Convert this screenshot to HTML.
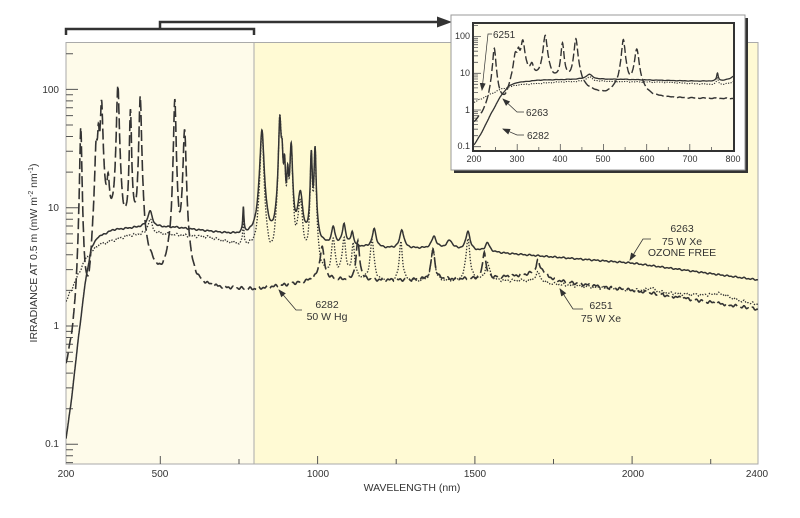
<!DOCTYPE html>
<html><head><meta charset="utf-8"><style>
html,body{margin:0;padding:0;background:#fff;}
svg{display:block;font-family:"Liberation Sans",sans-serif;}
</style></head><body>
<svg id="s" width="800" height="518" viewBox="0 0 800 518" xmlns="http://www.w3.org/2000/svg">
<defs>
<clipPath id="cm"><rect x="66" y="42" width="692" height="422"/></clipPath>
<clipPath id="ci"><rect x="473" y="23" width="261" height="128"/></clipPath>
<marker id="ar" markerWidth="8" markerHeight="8" refX="7" refY="4" orient="auto" markerUnits="userSpaceOnUse"><path d="M0,1 L8,4 L0,7 Z" fill="#333"/></marker>
</defs>
<rect x="66" y="42" width="188" height="422" fill="#fefbea"/>
<rect x="254" y="42" width="504" height="422" fill="#fffad4"/>
<line x1="254" y1="42" x2="254" y2="464" stroke="#aaa" stroke-width="1"/>
<path d="M66,42.5 H758 V464 H66 Z" fill="none" stroke="#aaa" stroke-width="1"/>
<g id="ticks" stroke="#555" stroke-width="1"></g>
<g font-size="10" fill="#333" text-anchor="end">
<text x="59" y="93">100</text><text x="59" y="211">10</text><text x="59" y="329">1</text><text x="59" y="447">0.1</text>
</g>
<g font-size="10" fill="#333" text-anchor="middle">
<text x="66" y="477">200</text><text x="160" y="477">500</text><text x="318" y="477">1000</text><text x="475" y="477">1500</text><text x="633" y="477">2000</text><text x="757" y="477">2400</text>
<text x="412" y="491" font-size="10.5">WAVELENGTH (nm)</text>
</g>
<text transform="translate(37,253) rotate(-90)" font-size="10.5" fill="#333" text-anchor="middle">IRRADIANCE AT 0.5 m (mW m<tspan font-size="7" dy="-4">-2</tspan><tspan dy="4"> nm</tspan><tspan font-size="7" dy="-4">-1</tspan><tspan dy="4">)</tspan></text>
<g id="main" clip-path="url(#cm)" fill="none" stroke="#333"></g>
<path d="M66,35 V29 H254 V35" fill="none" stroke="#333" stroke-width="2.5"/>
<path d="M160,29 V22 H440" fill="none" stroke="#333" stroke-width="2.5"/>
<path d="M437,16.5 L452,22 L437,27.5 Z" fill="#333"/>
<g font-size="10.5" fill="#333" text-anchor="middle">
<text x="327" y="308">6282</text><text x="327" y="320">50 W Hg</text>
<text x="682" y="232">6263</text><text x="682" y="245">75 W Xe</text><text x="682" y="256">OZONE FREE</text>
<text x="601" y="309">6251</text><text x="601" y="322">75 W Xe</text>
</g>
<g fill="none" stroke="#333" stroke-width="0.8" marker-end="url(#ar)">
<path d="M302,310 H296 L279,290"/>
<path d="M651,239 H643 L630,260"/>
<path d="M583,309 H573 L560,289"/>
</g>
<rect x="454" y="18" width="294" height="155" fill="#333"/>
<rect x="451" y="15" width="294" height="155" fill="#fff" stroke="#999" stroke-width="1"/>
<rect x="473" y="23" width="261" height="128" fill="#fffbe8" stroke="#333" stroke-width="2"/>
<g id="iticks" stroke="#555" stroke-width="1"></g>
<g font-size="9" fill="#333" text-anchor="end">
<text x="470" y="39">100</text><text x="470" y="76">10</text><text x="470" y="113">1</text><text x="470" y="149">0.1</text>
</g>
<g font-size="9" fill="#333" text-anchor="middle">
<text x="474" y="162">200</text><text x="517" y="162">300</text><text x="560" y="162">400</text><text x="603" y="162">500</text><text x="647" y="162">600</text><text x="690" y="162">700</text><text x="733" y="162">800</text>
</g>
<g id="inset" clip-path="url(#ci)" fill="none" stroke="#333"></g>
<g font-size="10" fill="#333">
<text x="493" y="38">6251</text><text x="526" y="116">6263</text><text x="527" y="139">6282</text>
</g>
<g fill="none" stroke="#333" stroke-width="0.7" marker-end="url(#ar)">
<path d="M492,34 H488 L482,90"/>
<path d="M524,112 H517 L503,99"/>
<path d="M524,135 H517 L503,129"/>
</g>
</svg>
<script>
function interp(pts,l){if(l<=pts[0][0])return Math.log10(pts[0][1]);for(var i=1;i<pts.length;i++){if(l<=pts[i][0]){var a=pts[i-1],b=pts[i],t=(l-a[0])/(b[0]-a[0]);return Math.log10(a[1])*(1-t)+Math.log10(b[1])*t;}}return Math.log10(pts[pts.length-1][1]);}
function mk(base,peaks,noise){return function(l){var v=Math.pow(10,interp(base,l));for(var i=0;i<peaks.length;i++){var p=peaks[i],d=(l-p[0])/p[2];v+=p[1]/(1+d*d);}if(noise)v*=1+noise*Math.sin(l*0.35)*Math.sin(l*0.11);return v;};}
var xeP=[[467,2.5,8],[823,40,6],[880,50,4],[887,18,3],[895,15,3],[905,12,3],[916,28,4],[945,8,8],[980,24,3],[992,26,3],[1050,2,6],[1084,2.5,6],[1110,1.5,5],[1180,2,7],[1268,2,7],[1370,1.2,8],[1420,0.8,10],[1478,2,7],[1540,0.8,8],[764,4,2]];
var s6263=mk([[200,0.1],[215,0.2],[240,0.8],[260,2.2],[280,4.5],[300,5.6],[350,6.5],[450,6.9],[550,6.8],[650,6.3],[750,5.8],[800,5.5],[860,4.6],[1000,4.7],[1200,4.5],[1400,4.5],[1600,4.1],[2000,3.4],[2400,2.45]],xeP,0.015);
var dP=[[467,2,8],[823,42,5],[880,55,4],[887,20,3],[895,17,3],[905,14,3],[916,30,4],[945,8,8],[980,26,3],[992,28,3],[1050,2.8,6],[1084,3,6],[1113,2.5,5],[1173,3,6],[1265,2.8,5],[1367,2.2,6],[1478,3.2,6],[1540,1,8],[1700,0.5,10],[2060,0.15,15],[2280,0.2,40],[764,3,2]];
var s6251=mk([[200,1.6],[230,2.4],[260,3.6],[300,4.8],[400,5.8],[500,6],[650,5.6],[740,4.8],[790,4.2],[860,2.2],[1000,2.4],[1100,2.3],[1400,2.35],[1650,2.4],[1700,2.3],[2000,2.0],[2200,1.8],[2400,1.5]],dP,0.03);
var hgP=[[247,48,3],[296,25,4],[303,30,3],[313,70,4],[334,8,4],[365,100,4],[405,62,3],[436,85,3.5],[546,80,3.5],[577,42,4.5],[1014,2.2,7],[1128,2.7,6],[1367,2,6],[1530,1.8,5],[1700,0.6,5],[1710,0.4,20]];
var s6282=mk([[200,0.02],[240,0.03],[255,0.05],[270,0.15],[285,2],[300,6],[330,7],[350,5],[380,4.5],[420,4],[450,3],[480,2.6],[500,2.2],[520,2.4],[600,2.0],[700,2.0],[800,2.0],[900,2.2],[980,2.4],[1000,2.5],[1100,2.4],[1500,2.5],[1690,2.7],[1750,2.4],[2000,2.0],[2400,1.38]],hgP,0.03);
function path(f,l0,l1,X,Y){var d="";for(var l=l0;l<=l1;l+=(l<1050?0.5:1.5)){var v=f(l);d+=(d?"L":"M")+X(l).toFixed(1)+","+Y(v).toFixed(1);}return d;}
var NS="http://www.w3.org/2000/svg";
function add(g,d,w,da){var p=document.createElementNS(NS,"path");p.setAttribute("d",d);p.setAttribute("stroke-width",w);if(da)p.setAttribute("stroke-dasharray",da);g.appendChild(p);}
var Xm=function(l){return 66+(l-200)*0.3145},Ym=function(v){return 326-118.3*Math.log10(v)};
var gm=document.getElementById("main");
add(gm,path(s6251,200,2400,Xm,Ym),1.3,"1.4,1.6");
add(gm,path(s6282,200,2400,Xm,Ym),1.6,"11,4");
add(gm,path(s6263,200,2400,Xm,Ym),1.5,null);
var Xi=function(l){return 474+(l-200)*259/600},Yi=function(v){return 110-36.7*Math.log10(v)};
var gi=document.getElementById("inset");
add(gi,path(s6251,200,800,Xi,Yi),1.1,"1.2,1.4");
add(gi,path(s6282,200,800,Xi,Yi),1.4,"8,3");
add(gi,path(s6263,200,800,Xi,Yi),1.3,null);
var t=document.getElementById("ticks"),s="";
for(var e=-2;e<=2;e++)for(var k=1;k<10;k++){var v=k*Math.pow(10,e),y=Ym(v);if(y<42||y>464)continue;s+="M66,"+y.toFixed(1)+"H"+(k==1?78:73);}
[500,1000,1500,2000].forEach(function(l){s+="M"+Xm(l).toFixed(1)+",464V456";});
[750,1250,1750,2250].forEach(function(l){s+="M"+Xm(l).toFixed(1)+",464V459";});
add(t,s,1,null);
var ti=document.getElementById("iticks"),s2="";
for(var e=-1;e<=2;e++)for(var k=1;k<10;k++){var v=k*Math.pow(10,e),y=Yi(v);if(y<24||y>150)continue;s2+="M474,"+y.toFixed(1)+"H"+(k==1?481:478);}
for(var l=250;l<800;l+=50){s2+="M"+Xi(l).toFixed(1)+",150V"+(l%100==0?144:147);}
add(ti,s2,0.8,null);
</script>
</body></html>
